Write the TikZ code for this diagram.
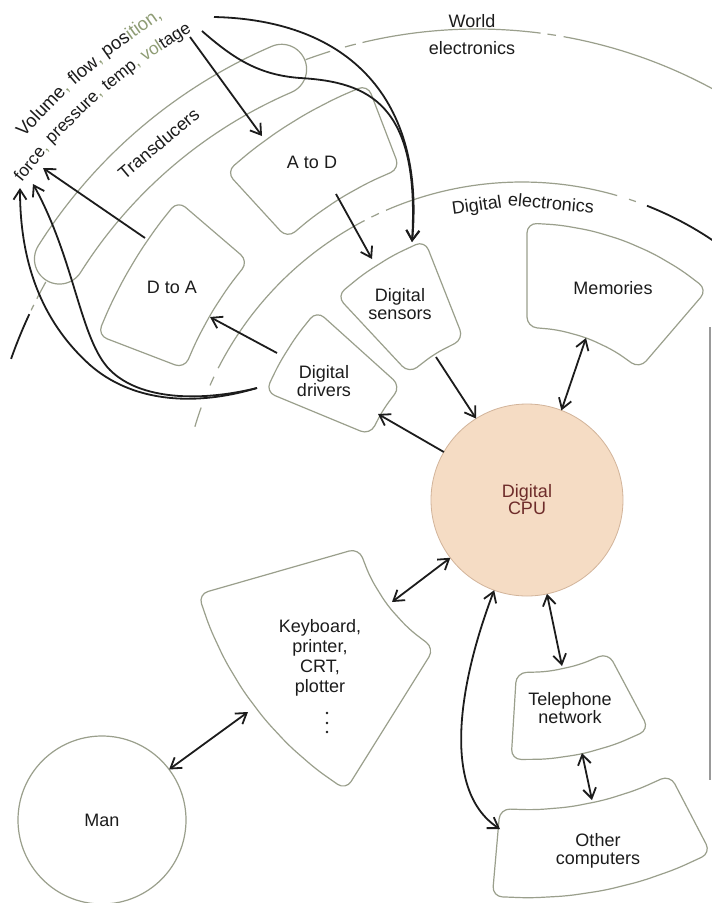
\documentclass[tikz,border=0pt]{standalone}
\usepackage{fontspec}
\setmainfont{Liberation Sans}
\usetikzlibrary{arrows.meta}

\definecolor{ink}{HTML}{1C1C1C}
\definecolor{edgegray}{HTML}{9A9F8C}
\definecolor{olv}{HTML}{8E9C74}
\definecolor{cpufill}{HTML}{F5DCC4}
\definecolor{cpuedge}{HTML}{D2B49A}
\definecolor{cputext}{HTML}{6E2C2A}

% annular sector around (#1,#2): angles #3..#4, radii #5..#6,
% outer arc in #7 pieces, inner arc in #8 pieces
\newcommand\sectorbox[8]{%
  \path[boxline] ({#1+0.5*(#5+#6)*cos(#3)},{#2+0.5*(#5+#6)*sin(#3)})
    -- ({#1+#6*cos(#3)},{#2+#6*sin(#3)})
    \foreach \k in {1,...,#7}{
      -- ({#1+#6*cos(#3+(#4-#3)*\k/#7)},{#2+#6*sin(#3+(#4-#3)*\k/#7)}) }
    -- ({#1+#5*cos(#4)},{#2+#5*sin(#4)})
    \foreach \k in {1,...,#8}{
      -- ({#1+#5*cos(#4+(#3-#4)*\k/#8)},{#2+#5*sin(#4+(#3-#4)*\k/#8)}) }
    -- cycle;}

% circular arc: style, centre x, centre y, radius, from, to
\newcommand\ringarc[6]{%
  \draw[#1] plot[domain=#5:#6, samples=40, variable=\t]
    ({#2+#4*cos(\t)},{#3+#4*sin(\t)});}

% word set tangentially on a circle: name, centre x, centre y, radius, angle, size, text
\newcommand\arcword[7]{%
  \node[anchor=base, inner sep=0pt, text=ink, rotate={270-#5},
        font=\fontsize{#6}{#6}\selectfont]
    (#1) at ({#2+#4*cos(#5)},{#3+#4*sin(#5)}) {#7};}

\begin{document}
\begin{tikzpicture}[x=1pt,y=-1pt,
  boxline/.style={draw=edgegray, line width=1.2pt, rounded corners=10pt, line join=round},
  ringline/.style={draw=edgegray, line width=1.2pt},
  darkline/.style={draw=ink, line width=1.8pt},
  tip/.tip={Straight Barb[length=10pt,width=13pt]},
  conn/.style={draw=ink, line width=1.8pt, -tip},
  dconn/.style={draw=ink, line width=1.8pt, tip-tip},
  lab/.style={font=\fontsize{18}{18}\selectfont, text=ink, align=center, inner sep=0pt},
]
\useasboundingbox (0,0) rectangle (712,903);
\fill[white] (0,0) rectangle (712,903);

% ---------- world electronics ring (centre 477,523) ----------
\ringarc{ringline}{477}{523}{494}{249.7}{252.7}
\ringarc{ringline}{477}{523}{494}{254.5}{255.8}
\ringarc{ringline}{477}{523}{494}{256.6}{277.4}
\ringarc{ringline}{477}{523}{494}{278.2}{279.2}
\ringarc{ringline}{477}{523}{494}{280.1}{299.5}
\ringarc{ringline}{477}{523}{494}{207}{209.2}
\ringarc{ringline}{477}{523}{494}{205.5}{206.2}
\ringarc{darkline}{477}{523}{494}{199.4}{205}

% transducer band with round ends
\draw[ringline]
  plot[domain=212.3:246.7, samples=60, variable=\t] ({477+519*cos(\t)},{523+519*sin(\t)})
  -- plot[domain=246.7:426.7, samples=30, variable=\t]
     ({477+494*cos(246.7)+25*cos(\t)},{523+494*sin(246.7)+25*sin(\t)})
  -- plot[domain=246.7:212.3, samples=60, variable=\t] ({477+469*cos(\t)},{523+469*sin(\t)})
  -- plot[domain=392.3:572.3, samples=30, variable=\t]
     ({477+494*cos(212.3)+25*cos(\t)},{523+494*sin(212.3)+25*sin(\t)})
  -- cycle;

% ---------- digital electronics ring (centre 522,523) ----------
\ringarc{ringline}{522}{523}{341}{196.4}{199.8}
\ringarc{ringline}{522}{523}{341}{203.8}{205.4}
\ringarc{ringline}{522}{523}{341}{207}{242.5}
\ringarc{ringline}{522}{523}{341}{243.8}{245.2}
\ringarc{ringline}{522}{523}{341}{246.5}{286.2}
\ringarc{ringline}{522}{523}{341}{288.3}{289.5}
\ringarc{darkline}{522}{523}{341}{291.5}{304}

% right margin rule
\draw[draw=gray!80, line width=1.2pt] (710,327) -- (710,780);

% ---------- boxes around the CPU ----------
\sectorbox{527}{500}{270}{310.6}{173}{277}{6}{4}   % memories
\sectorbox{527}{500}{227}{248.5}{173}{279}{3}{2}   % digital sensors
\sectorbox{527}{500}{202.5}{222}{170}{283}{3}{2}   % digital drivers
\sectorbox{527}{500}{201}{220.6}{367}{460}{5}{4}   % D to A
\sectorbox{527}{500}{227.5}{249}{355}{445}{5}{4}   % A to D
\sectorbox{527}{500}{122}{164}{175}{342}{7}{4}     % keyboard
\sectorbox{527}{500}{62}{93.5}{173}{260}{4}{3}     % telephone
\sectorbox{527}{500}{62.5}{95}{310}{398}{6}{5}     % other computers

% ---------- circles ----------
\node[circle, draw=cpuedge, fill=cpufill, line width=0.8pt, minimum size=192pt,
      inner sep=0pt, outer sep=0pt, text=cputext, align=center,
      font=\fontsize{18}{17}\selectfont] (cpu) at (527,500) {Digital\\CPU};
\node[circle, draw=edgegray, line width=1.2pt, minimum size=168pt, inner sep=0pt,
      outer sep=0pt, text=ink, font=\fontsize{18}{18}\selectfont] (man) at (102,820) {Man};

% ---------- labels ----------
\node[lab] (memL) at (613,288) {Memories};
\node[lab] (senL) at (400,304) {Digital\\sensors};
\node[lab] (drvL) at (324,381) {Digital\\drivers};
\node[lab] (daL) at (172,287) {D to A};
\node[lab] (adL) at (312,162) {A to D};
\node[lab, font=\fontsize{18}{20}\selectfont] (kbL) at (320,658) {Keyboard,\\printer,\\CRT,\\plotter};
\node[lab] (telL) at (570,708) {Telephone\\network};
\node[lab] (ocL) at (598,851) {Other\\computers};
\node[lab] (worldL) at (472,21) {World};
\node[lab] (elecL) at (472,48) {electronics};
\foreach \yy in {713,723,732} \fill[ink] (327,\yy) circle (1.3);

% curved labels, one word at a time
\arcword{trL}{477}{523}{489}{230}{18}{Transducers}
\arcword{deA}{522}{523}{315}{261.9}{18}{Digital}
\arcword{deB}{522}{523}{315}{275.2}{18}{electronics}
\arcword{qA}{477}{523}{594}{223.6}{18.5}{Volume\textcolor{olv}{,}}
\arcword{qB}{477}{523}{594}{229.2}{18.5}{flow\textcolor{olv}{,}}
\arcword{qC}{477}{523}{594}{234.8}{18.5}{pos\textcolor{olv}{ition,}}
\arcword{qD}{477}{523}{568}{219.0}{17.3}{force\textcolor{olv}{,}}
\arcword{qE}{477}{523}{568}{225.3}{17.3}{pressure\textcolor{olv}{,}}
\arcword{qF}{477}{523}{568}{231.6}{17.3}{temp\textcolor{olv}{,}}
\arcword{qG}{477}{523}{568}{237.1}{17.3}{\textcolor{olv}{vol}tage}

% ---------- connectors ----------
\coordinate (vA) at (190,37);
\coordinate (adIn) at (262,136);
\coordinate (vS1) at (214,17);
\coordinate (vS2) at (202,31);
\coordinate (senTop) at (412,242);
\coordinate (adOut) at (336,194);
\coordinate (senIn) at (372,259);
\coordinate (senOut) at (436,357);
\coordinate (memOut) at (586,338);
\coordinate (drvIn) at (378,414);
\coordinate (drvOut) at (277,353);
\coordinate (daIn) at (210,317);
\coordinate (daOut) at (145,238);
\coordinate (fA) at (43,168);
\coordinate (drvLeft) at (257,388);
\coordinate (fB) at (20,188);
\coordinate (fC) at (33,184);
\coordinate (kbIn) at (392,602);
\coordinate (kbOut) at (248,712);
\coordinate (telIn) at (562,666);
\coordinate (telOut) at (582,753);
\coordinate (ocTop) at (592,800);
\coordinate (ocIn) at (500,829);

\draw[conn] (vA) -- (adIn);
\draw[conn] (vS1) .. controls (350,20) and (425,100) .. (senTop);
\draw[conn] (vS2) .. controls (235,60) and (260,75) .. (300,78)
                  .. controls (370,82) and (420,105) .. (senTop);
\draw[conn] (adOut) -- (senIn);
\draw[conn] (senOut) -- (cpu.122);
\draw[dconn] (memOut) -- (cpu.69);
\draw[conn] (cpu.150) -- (drvIn);
\draw[conn] (drvOut) -- (daIn);
\draw[conn] (daOut) -- (fA);
\draw[conn] (drvLeft) .. controls (190,408) and (130,400) .. (90,365)
                      .. controls (40,320) and (20,260) .. (fB);
\draw[conn] (drvLeft) .. controls (200,402) and (140,400) .. (110,370)
                      .. controls (80,340) and (75,260) .. (fC);
\draw[dconn] (cpu.217) -- (kbIn);
\draw[dconn] (kbOut) -- (man.37);
\draw[dconn] (cpu.282) -- (telIn);
\draw[dconn] (cpu.250) .. controls (460,680) and (440,790) .. (ocIn);
\draw[dconn] (telOut) -- (ocTop);
\end{tikzpicture}
\end{document}
